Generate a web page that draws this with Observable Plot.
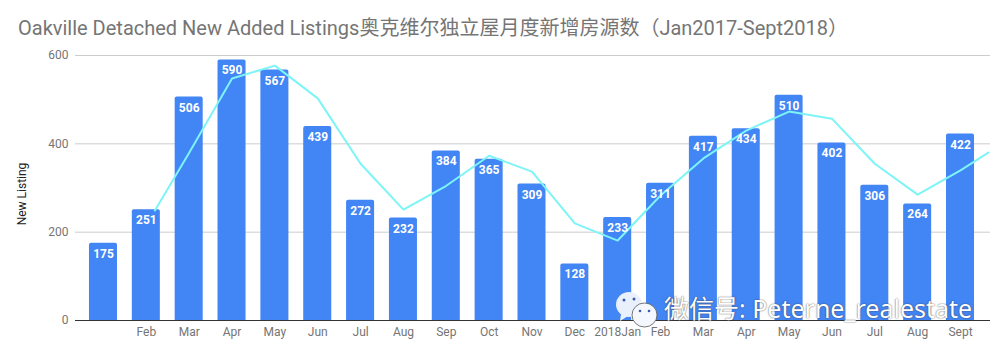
<!DOCTYPE html>
<html>
<head>
<meta charset="utf-8">
<script src="https://cdn.jsdelivr.net/npm/d3@7"></script>
<script src="https://cdn.jsdelivr.net/npm/@observablehq/plot@0.6"></script>
<style>
html,body{margin:0;padding:0;background:#fff;overflow:hidden}
#wrap{position:relative;width:1007px;height:356px}
#title{height:40px;box-sizing:border-box;padding:16px 0 0 18px;font:20px/24px Roboto,"Noto Sans CJK SC",sans-serif;color:#757575;white-space:nowrap}
#chart svg{display:block}
#mark{position:absolute;left:664px;top:293px;font:400 25px/30px "Noto Sans","Noto Sans CJK SC",sans-serif;color:#fff;white-space:nowrap;text-shadow:0 0 1.5px #333}
#logo{position:absolute;left:615px;top:291px}
</style>
</head>
<body>
<div id="wrap">
<div id="title">Oakville Detached New Added Listings奥克维尔独立屋月度新增房源数（Jan2017-Sept2018）</div>
<div id="chart"></div>
<svg id="logo" width="46" height="40" viewBox="0 0 46 40">
<ellipse cx="14" cy="13.5" rx="13" ry="12.5" fill="#eaf0fb"/>
<path d="M6 23 L5 30 L13 25 Z" fill="#eaf0fb"/>
<ellipse cx="29.5" cy="24" rx="12.5" ry="12" fill="#f4f7fd" stroke="#555" stroke-width=".8"/>
<circle cx="9" cy="9" r="1.5" fill="#3b5bb0"/><circle cx="19" cy="8" r="1.5" fill="#3b5bb0"/>
<circle cx="25" cy="20" r="1.3" fill="#3b5bb0"/><circle cx="34" cy="20" r="1.3" fill="#3b5bb0"/>
</svg>
<div id="mark">微信号: Peterne_realestate</div>
</div>
<script>
const months = ["", "Feb", "Mar", "Apr", "May", "Jun", "Jul", "Aug", "Sep", "Oct", "Nov", "Dec", "2018Jan", "Feb", "Mar", "Apr", "May", "Jun", "Jul", "Aug", "Sept"];
const listings = [175, 251, 506, 590, 567, 439, 272, 232, 384, 365, 309, 128, 233, 311, 417, 434, 510, 402, 306, 264, 422];
const trendPos = [1.2, 2, 3, 4, 5, 6, 7, 8, 9, 10, 11, 12, 13, 14, 15, 16, 17, 18, 19, 20, 20.65];
const trendVal = [249, 380, 548, 577, 503, 355, 251, 305, 373, 337, 220, 181, 283, 367, 430, 473, 457, 355, 285, 340, 380];
const yTicks = [0, 200, 400, 600];

const idx = months.map((_, i) => i);
const trend = trendPos.map((p, i) => ({p, v: trendVal[i]}));
const halfBar = 0.327;

const chart = Plot.plot({
  width: 1007,
  height: 316,
  marginLeft: 75,
  marginRight: 17,
  marginTop: 15,
  marginBottom: 36,
  style: {fontFamily: "Roboto, sans-serif", background: "#fff"},
  x: {domain: [-0.653, 20.70], axis: null},
  y: {domain: [0, 600], axis: null},
  marks: [
    Plot.ruleY(yTicks.filter(d => d > 0), {stroke: "#cccccc", strokeWidth: 1}),
    Plot.rectY(idx, {x1: i => i - halfBar, x2: i => i + halfBar, y: i => listings[i], fill: "#4285f4", rx1y2: 2, rx2y2: 2}),
    Plot.line(trend, {x: "p", y: "v", stroke: "#7df4f6", strokeWidth: 2}),
    Plot.ruleY([0], {stroke: "#333333", strokeWidth: 1}),
    Plot.text(idx, {x: i => i, y: i => listings[i], text: i => String(listings[i]), fill: "#fff", fontWeight: 700, fontSize: 12, lineAnchor: "top", dy: 6}),
    Plot.axisY({ticks: yTicks, tickSize: 0, tickPadding: 7, label: null, fontSize: 12, color: "#757575", anchor: "left"}),
    Plot.axisX({ticks: idx, tickFormat: i => months[i], tickSize: 0, tickPadding: 7, label: null, fontSize: 12, color: "#757575", anchor: "bottom"}),
    Plot.text(["New Listing"], {frameAnchor: "left", textAnchor: "middle", rotate: -90, dx: -53, dy: 6, fill: "#222", fontSize: 12})
  ]
});
document.getElementById("chart").append(chart);
</script>
</body>
</html>
